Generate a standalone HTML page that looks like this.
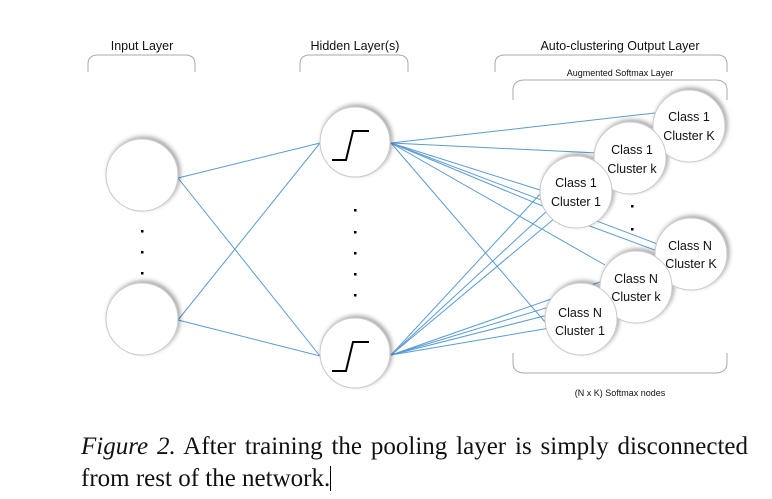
<!DOCTYPE html>
<html><head><style>
body{margin:0;background:#fff;width:772px;height:499px;overflow:hidden}
svg{position:absolute;left:0;top:0}
.cap{position:absolute;left:81px;font-family:"Liberation Serif",serif;font-size:25px;color:#111;white-space:nowrap}
</style></head><body>
<svg width="772" height="499" viewBox="0 0 772 499" font-family="Liberation Sans, sans-serif">
<defs>
<filter id="sh" x="-30%" y="-30%" width="160%" height="160%"><feDropShadow dx="2" dy="-2" stdDeviation="2" flood-color="#000" flood-opacity="0.35"/></filter>
</defs>
<g fill="none" stroke="#aaa" stroke-width="1">
<path d="M88,72 v-8 q0,-9 10,-9 h87 q10,0 10,9 v8"/>
<path d="M300,72 v-8 q0,-9 10,-9 h88 q10,0 10,9 v8"/>
<path d="M495,72 v-8 q0,-9 10,-9 h212 q10,0 10,9 v8"/>
<path d="M513,100 v-10 q0,-10 12,-10 h190 q12,0 12,10 v10"/>
<path d="M513,353 v10 q0,10 12,10 h190 q12,0 12,-10 v-10"/>
</g>
<g font-size="12.5" fill="#111" text-anchor="middle">
<text x="142" y="50">Input Layer</text>
<text x="355" y="50">Hidden Layer(s)</text>
<text x="620" y="50">Auto-clustering Output Layer</text>
<text x="620" y="76" font-size="9">Augmented Softmax Layer</text>
<text x="620" y="396" font-size="9">(N x K) Softmax nodes</text>
</g>
<g stroke="#5b9bd5" stroke-width="1">
<line x1="178" y1="178" x2="320" y2="143"/>
<line x1="178" y1="178" x2="320" y2="356"/>
<line x1="178" y1="320" x2="320" y2="143"/>
<line x1="178" y1="320" x2="320" y2="356"/>
<line x1="391" y1="143" x2="655" y2="113"/>
<line x1="391" y1="143" x2="598" y2="153"/>
<line x1="391" y1="143" x2="540" y2="190"/>
<line x1="391" y1="143" x2="545" y2="207"/>
<line x1="391" y1="143" x2="605" y2="265"/>
<line x1="391" y1="143" x2="660" y2="245"/>
<line x1="391" y1="143" x2="545" y2="322"/>
<line x1="391" y1="355" x2="542" y2="192"/>
<line x1="391" y1="355" x2="548" y2="210"/>
<line x1="391" y1="355" x2="555" y2="218"/>
<line x1="391" y1="355" x2="600" y2="282"/>
<line x1="391" y1="355" x2="605" y2="290"/>
<line x1="391" y1="355" x2="548" y2="315"/>
<line x1="391" y1="355" x2="550" y2="328"/>
<line x1="587" y1="225" x2="660" y2="252"/>
</g>
<g fill="#fff" stroke="#c8c8c8" stroke-width="1" filter="url(#sh)">
<circle cx="142" cy="175" r="36"/>
<circle cx="142" cy="319" r="36"/>
<circle cx="355" cy="142" r="35"/>
<circle cx="355" cy="353" r="35"/>
<circle cx="689" cy="126" r="36"/>
<circle cx="630" cy="158" r="36"/>
<circle cx="576" cy="192" r="36"/>
<circle cx="691" cy="254" r="36"/>
<circle cx="636" cy="287" r="36"/>
<circle cx="581" cy="319" r="36"/>
</g>
<g stroke="#000" stroke-width="2" fill="none">
<path d="M332,160 h14 l7,-29 h16"/>
<path d="M332,371 h14 l7,-29 h16"/>
</g>
<g fill="#000">
<rect x="141" y="230" width="2.5" height="2.5"/><rect x="141" y="251" width="2.5" height="2.5"/><rect x="141" y="272" width="2.5" height="2.5"/>
<rect x="354" y="209" width="2.5" height="2.5"/><rect x="354" y="231" width="2.5" height="2.5"/><rect x="354" y="252" width="2.5" height="2.5"/><rect x="354" y="273" width="2.5" height="2.5"/><rect x="354" y="294" width="2.5" height="2.5"/>
<rect x="631" y="205" width="2.5" height="2.5"/><rect x="631" y="228" width="2.5" height="2.5"/>
</g>
<g font-size="12.5" fill="#111" text-anchor="middle">
<text x="689" y="121">Class 1</text><text x="689" y="140">Cluster K</text>
<text x="632" y="154">Class 1</text><text x="632" y="173">Cluster k</text>
<text x="576" y="187">Class 1</text><text x="576" y="206">Cluster 1</text>
<text x="690" y="250">Class N</text><text x="691" y="268">Cluster K</text>
<text x="636" y="283">Class N</text><text x="636" y="301">Cluster k</text>
<text x="580" y="317">Class N</text><text x="580" y="335">Cluster 1</text>
</g>
</svg>
<div class="cap" style="top:433px;width:667px;text-align:justify;text-align-last:justify;white-space:normal"><i>Figure 2.</i> After training the pooling layer is simply disconnected</div>
<div class="cap" style="top:465px">from rest of the network.<span style="display:inline-block;width:1px;height:25px;background:#000;vertical-align:-5px"></span></div>
</body></html>
